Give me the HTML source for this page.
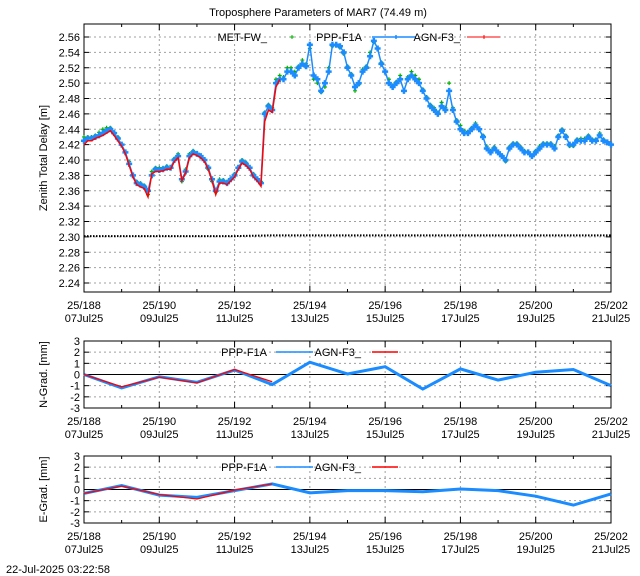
<!DOCTYPE html>
<html><head><meta charset="utf-8"><style>
body{margin:0;background:#fff;width:640px;height:576px;overflow:hidden}
svg{display:block;font-family:"Liberation Sans","DejaVu Sans",sans-serif;font-size:11px}
</style></head><body>
<svg id="c" width="640" height="576" viewBox="0 0 640 576">
<text x="318" y="16" text-anchor="middle">Troposphere Parameters of MAR7 (74.49 m)</text>
<text x="6" y="573">22-Jul-2025 03:22:58</text>
</svg>
<script>
const dayTicks=[0,2,4,6,8,10,12,14];
const tickDoy=["25/188","25/190","25/192","25/194","25/196","25/198","25/200","25/202"];
const tickDate=["07Jul25","09Jul25","11Jul25","13Jul25","15Jul25","17Jul25","19Jul25","21Jul25"];
const ztdTicks=[2.24,2.26,2.28,2.30,2.32,2.34,2.36,2.38,2.40,2.42,2.44,2.46,2.48,2.50,2.52,2.54,2.56];
const gradTicks=[-3,-2,-1,0,1,2,3];
const pppZtd=[2.425,2.428,2.428,2.43,2.432,2.435,2.438,2.44,2.435,2.428,2.42,2.41,2.395,2.38,2.37,2.368,2.365,2.36,2.38,2.388,2.387,2.388,2.39,2.39,2.40,2.405,2.375,2.385,2.405,2.41,2.408,2.405,2.40,2.39,2.375,2.36,2.372,2.372,2.37,2.375,2.38,2.39,2.398,2.395,2.39,2.38,2.375,2.37,2.46,2.47,2.465,2.50,2.505,2.505,2.515,2.515,2.51,2.52,2.525,2.522,2.55,2.51,2.505,2.49,2.50,2.515,2.55,2.55,2.548,2.54,2.52,2.51,2.495,2.50,2.515,2.52,2.535,2.555,2.545,2.525,2.515,2.50,2.495,2.50,2.505,2.49,2.505,2.51,2.505,2.50,2.49,2.48,2.47,2.465,2.46,2.47,2.465,2.49,2.465,2.45,2.44,2.435,2.435,2.44,2.445,2.44,2.43,2.415,2.41,2.415,2.41,2.405,2.40,2.415,2.42,2.42,2.415,2.41,2.41,2.405,2.41,2.415,2.42,2.42,2.42,2.415,2.43,2.438,2.43,2.42,2.42,2.425,2.425,2.425,2.43,2.425,2.425,2.432,2.425,2.423,2.42];
const metZtd=[2.43,2.43,2.43,2.432,2.436,2.44,2.442,2.442,2.436,2.43,2.42,2.41,2.398,2.38,2.372,2.37,2.367,2.355,2.385,2.39,2.39,2.39,2.392,2.39,2.402,2.408,2.372,2.388,2.408,2.412,2.408,2.405,2.40,2.388,2.372,2.358,2.375,2.374,2.372,2.376,2.382,2.39,2.40,2.397,2.39,2.382,2.376,2.372,2.462,2.472,2.468,2.505,2.51,2.508,2.52,2.52,2.515,2.522,2.53,2.525,2.545,2.505,2.50,2.488,2.495,2.52,2.548,2.55,2.546,2.538,2.522,2.512,2.49,2.498,2.518,2.522,2.54,2.553,2.545,2.527,2.515,2.505,2.497,2.502,2.51,2.49,2.508,2.515,2.51,2.505,2.492,2.482,2.472,2.468,2.462,2.475,2.468,2.50,2.468,2.452,2.445,2.438,2.437,2.442,2.448,2.44,2.432,2.418,2.412,2.417,2.41,2.406,2.398,2.417,2.422,2.422,2.417,2.412,2.41,2.405,2.412,2.418,2.422,2.422,2.422,2.418,2.432,2.44,2.432,2.418,2.418,2.427,2.428,2.428,2.432,2.427,2.427,2.435,2.427,2.424,2.42];
const agnZtd=[2.42,2.425,2.425,2.428,2.43,2.432,2.435,2.438,2.432,2.425,2.418,2.408,2.393,2.378,2.368,2.365,2.363,2.352,2.382,2.385,2.385,2.386,2.388,2.388,2.398,2.403,2.373,2.383,2.403,2.408,2.406,2.403,2.398,2.388,2.373,2.355,2.37,2.37,2.368,2.373,2.378,2.388,2.396,2.393,2.388,2.378,2.373,2.366,2.45,2.465,2.462,2.495,2.505];
const baseVal=[2.301,2.301,2.301,2.301,2.301,2.302,2.302,2.302,2.302,2.302,2.302,2.302,2.302,2.302,2.302];
const gradDays=[0,1,2,3,4,5,6,7,8,9,10,11,12,13,14];
const pppN=[0,-1.2,-0.2,-0.7,0.4,-0.9,1.1,0.05,0.7,-1.3,0.5,-0.5,0.2,0.45,-1.0];
const agnN=[0,-1.1,-0.25,-0.75,0.45,-0.65];
const pppE=[-0.35,0.35,-0.5,-0.7,-0.1,0.5,-0.3,-0.1,-0.1,-0.2,0.05,-0.1,-0.6,-1.4,-0.4];
const agnE=[-0.35,0.3,-0.45,-0.85,-0.05,0.5];

const svg=document.getElementById('c');
const NS='http://www.w3.org/2000/svg';
function el(t,a,p){const e=document.createElementNS(NS,t);for(const k in a)e.setAttribute(k,a[k]);(p||svg).appendChild(e);return e;}
const X0=84,X1=611;
const xs=d=>X0+d*(X1-X0)/14;
const yz=v=>37+(2.56-v)/0.02*15.375;

function panel(name,top,bot,yfun,ticks,fmt,ylabel,labY){
  const g=el('g',{});
  
  
  for(let d=2;d<14;d+=2){const l=el('line',{x1:xs(d),x2:xs(d),y1:top,y2:bot,stroke:'#a0a0a0','stroke-dasharray':'2,3'},g);}
  ticks.forEach(v=>{const y=yfun(v);
    if(y>top+1&&y<bot-1){const l=el('line',{x1:X0,x2:X1,y1:y,y2:y,stroke:'#a0a0a0','stroke-dasharray':'2,3'},g);}
    el('line',{x1:X0,x2:X0+5,y1:y,y2:y,stroke:'#000'},g);el('line',{x1:X1-5,x2:X1,y1:y,y2:y,stroke:'#000'},g);
    const t=el('text',{x:X0-4,y:y+4,'text-anchor':'end'},g);t.textContent=fmt(v);
    });
  for(let d=0;d<=14;d++){const len=d%2?3:6;el('line',{x1:xs(d),x2:xs(d),y1:bot,y2:bot-len,stroke:'#000'},g);el('line',{x1:xs(d),x2:xs(d),y1:top,y2:top+len,stroke:'#000'},g);}
  dayTicks.forEach((d,i)=>{const t=el('text',{x:xs(d),y:labY,'text-anchor':'middle'},g);t.textContent=tickDoy[i];
    
    const t2=el('text',{x:xs(d),y:labY+13,'text-anchor':'middle'},g);t2.textContent=tickDate[i];
    });
  const r=el('rect',{x:X0,y:top,width:X1-X0,height:bot-top,fill:'none',stroke:'#000'},g);
  
  const cy=(top+bot)/2;const yl=el('text',{x:0,y:0,'text-anchor':'middle',transform:`translate(47,${cy}) rotate(-90)`},g);yl.textContent=ylabel;
  
  return g;
}
const gm=panel('ztd',24,292,yz,ztdTicks,v=>v.toFixed(2),'Zenith Total Delay [m]',309);
const step=0.1;
let bp=baseVal.map((v,i)=>xs(i)+','+yz(v)).join(' ');
const bl=el('polyline',{points:bp,fill:'none',stroke:'#000','stroke-width':2,'stroke-dasharray':'1.5,1.5'},gm);

const mg=el('g',{fill:'none',stroke:'#00b000','stroke-width':1.2},gm);

metZtd.forEach((v,i)=>{const x=xs(i*step),y=yz(v);const p=el('path',{d:`M${x-2},${y}h4M${x},${y-2}v4`},mg);});
const pl=el('polyline',{points:pppZtd.map((v,i)=>xs(i*step)+','+yz(v)).join(' '),fill:'none',stroke:'#1a8cff','stroke-width':1.5},gm);

const pg=el('g',{fill:'none',stroke:'#1a8cff','stroke-width':2.5},gm);

pppZtd.forEach((v,i)=>{const x=xs(i*step),y=yz(v);const p=el('path',{d:`M${x-3},${y}h6M${x},${y-3}v6`},pg);});
const al=el('polyline',{points:agnZtd.map((v,i)=>xs(i*step)+','+yz(v)).join(' '),fill:'none',stroke:'#ff0000','stroke-width':1.5},gm);

function legText(x,y,s,n){const t=el('text',{x:x,y:y,'text-anchor':'end'});t.textContent=s;}
legText(267,41,'MET-FW_','legend-met-label');
let lm=el('path',{d:'M290,37h4M292,35v4',stroke:'#00b000',fill:'none'});
legText(362,41,'PPP-F1A','legend-ppp-label');
let lp=el('path',{d:'M372,37h44M396,35v4M394,37h4',stroke:'#1a8cff','stroke-width':1.5,fill:'none'});
legText(460,41,'AGN-F3_','legend-agn-label');
let la=el('path',{d:'M467,37h33M484,35v4',stroke:'#ff0000',fill:'none'});

function gradPanel(name,top,bot,ppp,agn,ylabel,labY){
  const yg=v=>top+(3-v)/6*(bot-top);
  const g=panel(name,top,bot,yg,gradTicks,v=>String(v),ylabel,labY);
  const z=el('line',{x1:X0,x2:X1,y1:yg(0),y2:yg(0),stroke:'#000'},g);
  const p=el('polyline',{points:ppp.map((v,i)=>xs(gradDays[i])+','+yg(v)).join(' '),fill:'none',stroke:'#1a8cff','stroke-width':3},g);
  
  const a=el('polyline',{points:agn.map((v,i)=>xs(gradDays[i])+','+yg(v)).join(' '),fill:'none',stroke:'#ff0000','stroke-width':1.3},g);
  
  const ly=top+11;
  const t1=el('text',{x:267,y:ly+4,'text-anchor':'end'},g);t1.textContent='PPP-F1A';
  const l1=el('line',{x1:276,x2:313,y1:ly,y2:ly,stroke:'#1a8cff','stroke-width':1.5},g);
  const t2=el('text',{x:361,y:ly+4,'text-anchor':'end'},g);t2.textContent='AGN-F3_';
  const l2=el('line',{x1:372,x2:398,y1:ly,y2:ly,stroke:'#ff0000','stroke-width':1.5},g);
}
gradPanel('n-grad',341,408,pppN,agnN,'N-Grad. [mm]',425);
gradPanel('e-grad',456,523,pppE,agnE,'E-Grad. [mm]',540);
</script>
</body></html>
